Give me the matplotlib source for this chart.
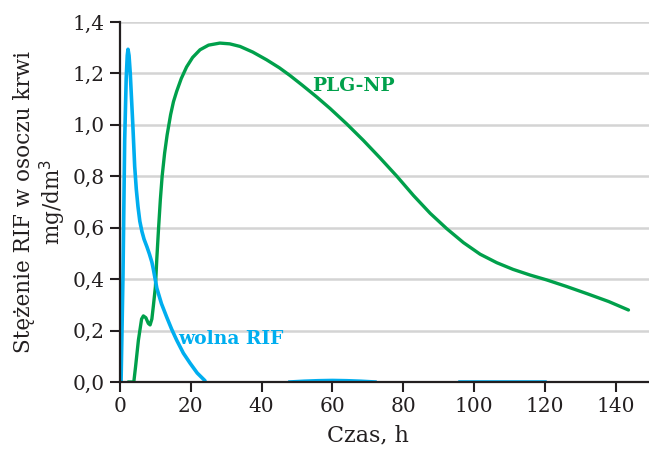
import matplotlib
matplotlib.use("Agg")
import matplotlib.pyplot as plt
from matplotlib.ticker import FuncFormatter

# PLG-NP (green curve)
plg_t = [2.3, 2.9, 3.9, 4.4, 5.2, 6.1, 6.6, 7.3, 8.0, 8.5, 9.0, 9.4, 10.0,
         10.4, 10.9, 11.4, 11.9, 12.6, 13.3, 14.3, 15.1, 16.0, 17.3, 18.8,
         20.5, 22.6, 25.0, 28.2, 31.0, 33.9, 37.5, 41.4, 45.0, 48.0, 51.5,
         55.6, 59.3, 64.0, 68.7, 73.4, 78.2, 82.9, 87.6, 92.3, 97.0, 101.7,
         106.4, 111.0, 115.8, 120.5, 126.0, 132.0, 138.0, 143.6]
plg_c = [0.0, 0.0, 0.0, 0.06, 0.163, 0.245, 0.257, 0.25, 0.228, 0.222, 0.245,
         0.293, 0.37, 0.48, 0.60, 0.71, 0.80, 0.89, 0.96, 1.04, 1.09, 1.13,
         1.18, 1.225, 1.262, 1.292, 1.31, 1.318, 1.315, 1.305, 1.283, 1.253,
         1.222, 1.192, 1.154, 1.108, 1.064, 1.004, 0.94, 0.872, 0.80, 0.725,
         0.656, 0.596, 0.542, 0.497, 0.464, 0.438, 0.416, 0.397, 0.372, 0.343,
         0.313, 0.28]

# wolna RIF (blue curve)
rif_t = [0.0, 0.3, 0.85, 1.32, 1.75, 2.05, 2.26, 2.55, 2.9, 3.6, 4.15, 4.6,
         5.08, 5.6, 6.2, 6.8, 7.6, 8.3, 9.0, 9.4, 9.8, 10.4, 11.7, 13.2,
         14.6, 16.0, 17.9, 19.8, 21.8, 24.0]
rif_c = [0.0, 0.0, 0.42, 0.94, 1.18, 1.27, 1.294, 1.27, 1.20, 1.006, 0.838,
         0.75, 0.682, 0.625, 0.585, 0.555, 0.526, 0.498, 0.466, 0.44, 0.41,
         0.365, 0.305, 0.252, 0.205, 0.163, 0.112, 0.073, 0.035, 0.005]

# blue traces lying on the baseline
tail1_t = [48, 52, 56, 60, 64, 68, 72]
tail1_c = [0.0, 0.003, 0.005, 0.006, 0.005, 0.003, 0.0]
tail2_t = [96, 120]
tail2_c = [0.0, 0.0]

green = "#00a04b"
blue = "#00aeef"
dark = "#231f20"

plt.rcParams['font.family'] = ['DejaVu Serif']

fig = plt.figure(figsize=(6.49, 4.54), dpi=100)
ax = fig.add_axes([120/649, 1-382/454, 529/649, 360/454])

for y in [0.2, 0.4, 0.6, 0.8, 1.0, 1.2, 1.4]:
    ax.axhline(y, color="#d4d4d4", lw=1.8, zorder=0)

ax.plot(rif_t, rif_c, color=blue, lw=2.6, solid_capstyle="round",
        solid_joinstyle="round", zorder=3)
ax.plot(plg_t, plg_c, color=green, lw=2.4, solid_capstyle="round",
        solid_joinstyle="round", zorder=2)
ax.plot(tail1_t, tail1_c, color=blue, lw=2.6, zorder=3)
ax.plot(tail2_t, tail2_c, color=blue, lw=2.6, zorder=3)

ax.set_xlim(0, 149.4)
ax.set_ylim(0, 1.4)
ax.set_xticks(range(0, 141, 20))
ax.set_yticks([0, 0.2, 0.4, 0.6, 0.8, 1.0, 1.2, 1.4])
ax.yaxis.set_major_formatter(FuncFormatter(lambda v, p: f"{v:.1f}".replace(".", ",")))

for s in ["top", "right"]:
    ax.spines[s].set_visible(False)
for s in ["left", "bottom"]:
    ax.spines[s].set_color(dark)
    ax.spines[s].set_linewidth(1.6)
    ax.spines[s].set_zorder(4)
ax.tick_params(direction="out", length=7, width=1.5, color=dark,
               labelsize=14.5, labelcolor=dark, pad=4)

ax.set_xlabel("Czas, h", fontsize=16, color=dark, labelpad=6)
ax.xaxis.label.set_x(70 / 149.4)
ax.set_ylabel("Stężenie RIF w osoczu krwi\nmg/dm$^3$", fontsize=15.5,
              color=dark, linespacing=1.15, labelpad=3)

ax.text(54.2, 1.132, "PLG-NP", color=green, fontsize=13.5, fontweight="bold",
        va="baseline")
ax.text(16.4, 0.148, "wolna RIF", color=blue, fontsize=13.5, fontweight="bold",
        va="baseline")

fig.savefig("out.png", dpi=100)
